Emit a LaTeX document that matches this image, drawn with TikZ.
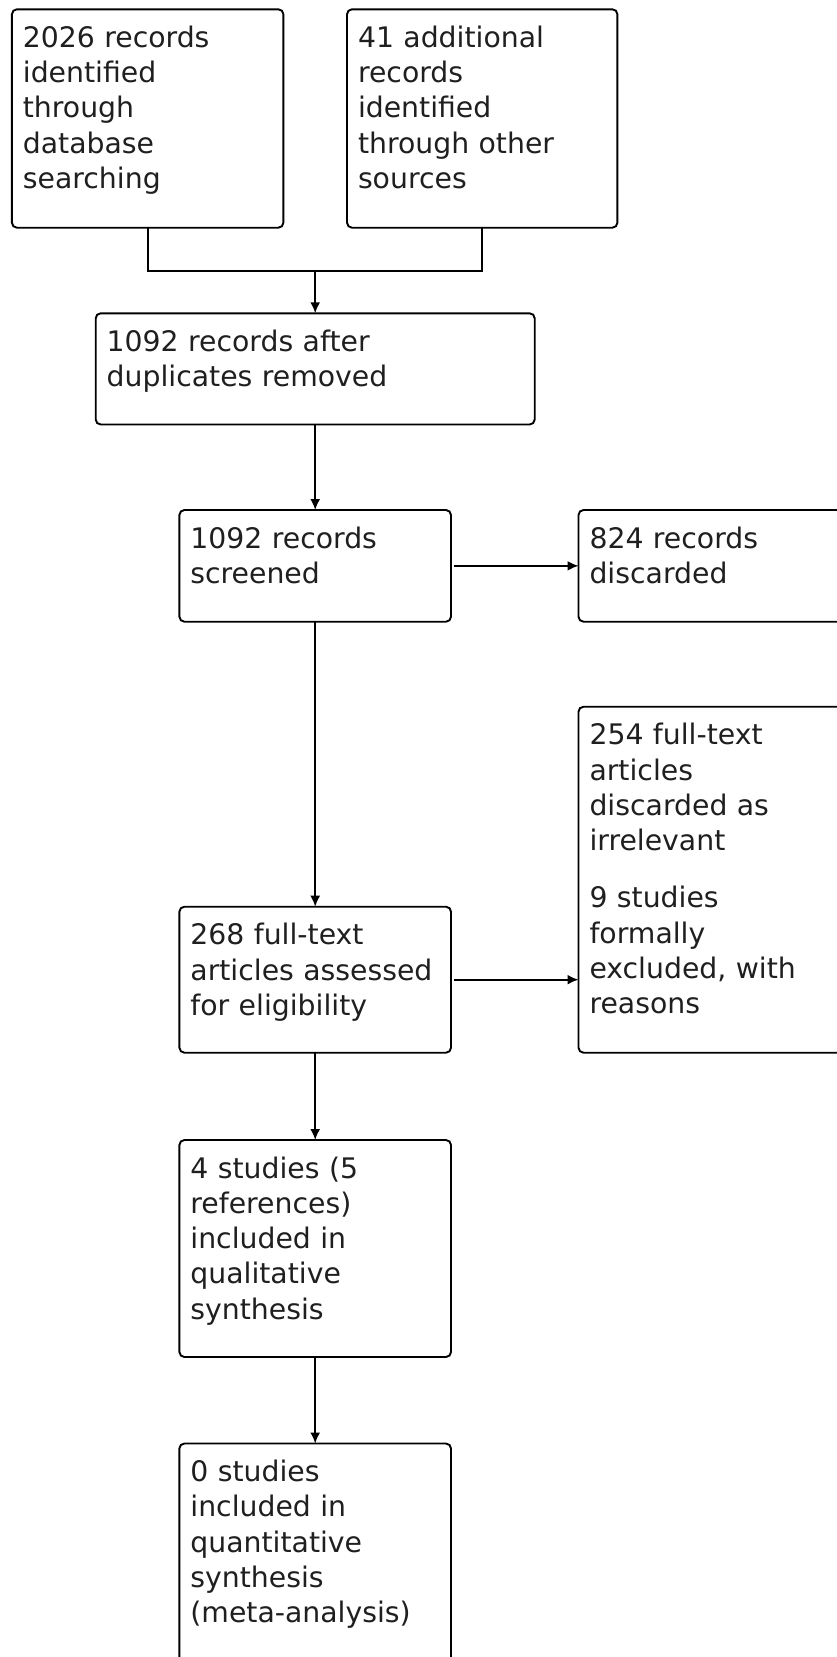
\documentclass[tikz,border=0pt]{standalone}
\usepackage{fontspec}
\setmainfont{DejaVu Sans}
\usetikzlibrary{arrows.meta}
\begin{document}
\begin{tikzpicture}[x=1pt, y=-1pt,
    font=\fontsize{28.3}{35.3}\selectfont,
    stagebox/.style={draw, line width=1.9pt, rounded corners=5pt, anchor=north west,
      outer sep=0pt, inner xsep=11pt, inner ysep=0pt, align=left,
      text height=38pt, text=black!88},
    flow/.style={-{Latex[length=11pt,width=10pt]}, line width=1.9pt}]
    \clip (0,0) rectangle (837,1657);

    \node[stagebox, text width=249.5pt, text depth=180.4pt] (dbsearch) at (11.9,9.3)
        {2026 records\\identified\\through\\database\\searching};
    \node[stagebox, text width=248.4pt, text depth=180.4pt] (othersrc) at (347,9.3)
        {41 additional\\records\\identified\\through other\\sources};

    \node[stagebox, text width=417pt, text depth=73.2pt] (dedup) at (95.7,313.3)
        {1092 records after\\duplicates removed};

    \node[stagebox, text width=249.6pt, text depth=73.7pt] (screened) at (179.4,510)
        {1092 records\\screened};
    \node[stagebox, text width=249.6pt, text depth=73.7pt] (discarded) at (578.5,510)
        {824 records\\discarded};

    \node[stagebox, text width=249.6pt, text depth=108pt] (fulltext) at (179.4,906.7)
        {268 full-text\\articles assessed\\for eligibility};
    \node[stagebox, text width=249.6pt, text depth=308pt] (excluded) at (578.5,706.7)
        {254 full-text\\articles\\discarded as\\irrelevant\\[22pt]9 studies\\formally\\excluded, with\\reasons};

    \node[stagebox, text width=249.6pt, text depth=179pt] (qualit) at (179.4,1140)
        {4 studies (5\\references)\\included in\\qualitative\\synthesis};
    \node[stagebox, text width=249.6pt, text depth=262pt] (quantit) at (179.4,1443.5)
        {0 studies\\included in\\quantitative\\synthesis\\(meta-analysis)};

    \coordinate (join) at (dedup.north |- 0,271);
    \draw[line width=1.9pt] (dbsearch.south) |- (join) -| (othersrc.south);
    \draw[flow] (join) -- (dedup.north);
    \draw[flow] (dedup.south) -- (screened.north);
    \draw[flow, shorten <=3pt] (screened.east) -- (discarded.west);
    \draw[flow] (screened.south) -- (fulltext.north);
    \draw[flow, shorten <=3pt] (fulltext.east) -- (fulltext.east -| excluded.west);
    \draw[flow] (fulltext.south) -- (qualit.north);
    \draw[flow] (qualit.south) -- (quantit.north);
\end{tikzpicture}
\end{document}
